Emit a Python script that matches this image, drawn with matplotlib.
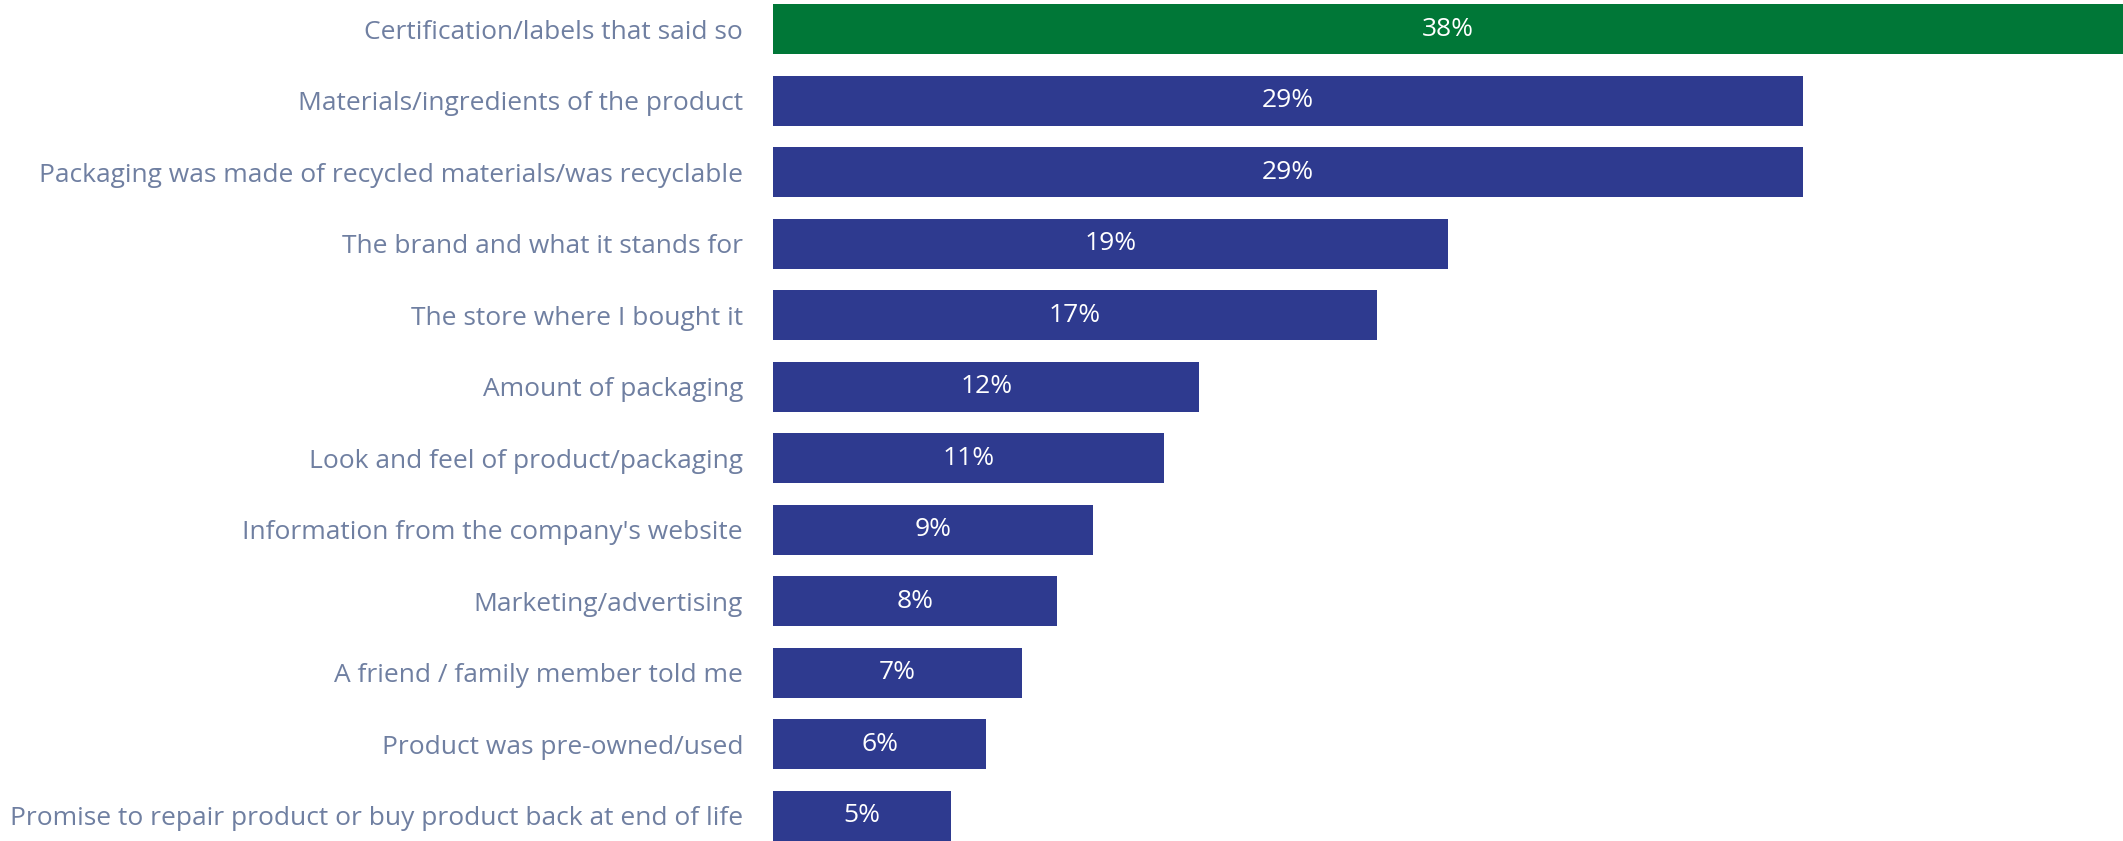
import matplotlib
matplotlib.use("Agg")
import matplotlib.pyplot as plt

categories = [
    "Certification/labels that said so",
    "Materials/ingredients of the product",
    "Packaging was made of recycled materials/was recyclable",
    "The brand and what it stands for",
    "The store where I bought it",
    "Amount of packaging",
    "Look and feel of product/packaging",
    "Information from the company's website",
    "Marketing/advertising",
    "A friend / family member told me",
    "Product was pre-owned/used",
    "Promise to repair product or buy product back at end of life",
]
values = [38, 29, 29, 19, 17, 12, 11, 9, 8, 7, 6, 5]

GREEN = "#007737"
BLUE = "#2E3A8F"
LABEL = "#6F7FA1"

plt.rcParams["font.family"] = ["Open Sans", "DejaVu Sans"]

fig = plt.figure(figsize=(21.23, 8.41), dpi=100)
ax = fig.add_axes([773 / 2123, 0.0, 1 - 773 / 2123, 1.0])

colors = [GREEN] + [BLUE] * (len(values) - 1)
ypos = list(range(len(values)))
bars = ax.barh(ypos, values, height=0.7, color=colors)

for b, v in zip(bars, values):
    ax.text(b.get_width() / 2, b.get_y() + b.get_height() / 2, f"{v}%",
            ha="center", va="center", color="white", fontsize=19)

ax.set_xlim(0, 38)
ax.set_ylim(11.35, -0.406)
ax.set_yticks(ypos)
ax.set_yticklabels(categories, fontsize=19, color=LABEL)
ax.tick_params(axis="y", length=0, pad=21.6)
ax.set_xticks([])
for s in ax.spines.values():
    s.set_visible(False)

fig.savefig("out.png", dpi=100)
